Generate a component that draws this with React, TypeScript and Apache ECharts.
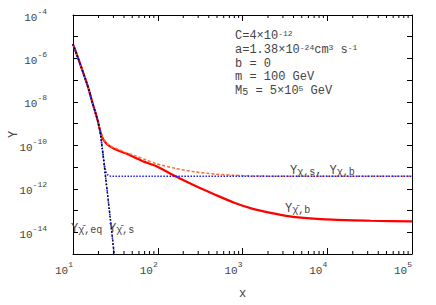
import React, { useEffect, useRef } from 'react';
import * as echarts from 'echarts';

// ---- data ----
// equilibrium curve  Y_{chi-bar,eq}  (also Y_{chi-bar,s})
const eqX = [10, 11, 12, 13, 15, 17, 18.41, 19.42, 20.48, 21.2, 22.17, 23.38, 25.32, 27.42, 30.25, 30.9];
const eqY = [4.57e-6, 1.66e-6, 6.37e-7, 2.61e-7, 5.06e-8, 8.85e-9, 3.17e-9, 1.55e-9, 6.14e-10, 3.0e-10, 7.1e-11, 1.18e-11, 7.8e-13, 4.9e-14, 1.5e-15, 6.6e-16];

// Y_{chi-bar,b}  (red solid)
const barBX = [10, 11, 12, 13, 15, 17, 18.41, 19.42, 19.95, 20.48, 21.2, 22.17, 23.38, 25.32, 28.9, 33.0, 43.1, 56.1, 73.2, 95.4, 162, 276, 469, 798, 1357, 2307, 3926, 11350, 32800, 100000];
const barBY = [4.57e-6, 1.66e-6, 6.37e-7, 2.61e-7, 5.06e-8, 8.85e-9, 3.17e-9, 1.55e-9, 1.02e-9, 6.4e-10, 3.9e-10, 2.3e-10, 1.62e-10, 1.13e-10, 7.9e-11, 6.1e-11, 4.1e-11, 2.57e-11, 1.62e-11, 1.12e-11, 3.8e-12, 1.38e-12, 5.5e-13, 2.29e-13, 1.17e-13, 7.4e-14, 5.1e-14, 3.8e-14, 3.4e-14, 3.16e-14];

// Y_{chi,b}  (orange dashed)
const chiBX = [10, 11, 12, 13, 15, 17, 18.41, 19.42, 19.95, 20.48, 21.2, 22.17, 23.38, 25.32, 28.9, 33.0, 43.1, 56.1, 73.2, 95.4, 162, 276, 469, 798, 1357, 3926, 100000];
const chiBY = [4.57e-6, 1.66e-6, 6.37e-7, 2.61e-7, 5.06e-8, 8.85e-9, 3.17e-9, 1.55e-9, 1.02e-9, 6.4e-10, 3.9e-10, 2.44e-10, 1.75e-10, 1.2e-10, 8.5e-11, 6.9e-11, 4.5e-11, 3.16e-11, 2.1e-11, 1.45e-11, 8.7e-12, 6.0e-12, 4.8e-12, 4.2e-12, 3.9e-12, 3.76e-12, 3.76e-12];

// Y_{chi,s}  (blue dotted, freezes out early)
const chiSX = [10, 11, 12, 13, 15, 17, 18.41, 19.42, 20.48, 21.2, 22.17, 22.76, 23.7, 24.6, 25.97, 28.1, 30.5, 100000];
const chiSY = [4.57e-6, 1.66e-6, 6.37e-7, 2.61e-7, 5.06e-8, 8.85e-9, 3.17e-9, 1.55e-9, 6.14e-10, 3.0e-10, 7.1e-11, 3.16e-11, 1.07e-11, 5.8e-12, 4.2e-12, 3.8e-12, 3.76e-12, 3.76e-12];

// axis tick helpers
const xMinorMantissas = [2, 3, 4, 5, 6, 7, 8, 9];
const xDecades = [10, 100, 1000, 10000];
const X_MIN = 10, X_MAX = 1e5, Y_MIN = 1e-15, Y_MAX = 1e-4;

const FONT = "'Liberation Mono', 'DejaVu Sans Mono', monospace";
const TXT = '#444';

const pair = (xs: number[], ys: number[]) => xs.map((x, i) => [x, ys[i]]);

const rich = {
  b: { fontSize: 12, fontFamily: FONT, color: TXT, fill: TXT, verticalAlign: 'middle', lineHeight: 13 },
  p: { fontSize: 8, fontFamily: FONT, color: TXT, fill: TXT, verticalAlign: 'top', lineHeight: 13 },
  s: { fontSize: 10, fontFamily: FONT, color: TXT, fill: TXT, verticalAlign: 'bottom', lineHeight: 13 },
};

const tickRich = {
  b: { fontSize: 11, fontFamily: FONT, color: TXT, verticalAlign: 'bottom', lineHeight: 16 },
  p: { fontSize: 8, fontFamily: FONT, color: TXT, verticalAlign: 'top', lineHeight: 16 },
};

export default function App() {
  const ref = useRef<HTMLDivElement>(null);
  useEffect(() => {
    document.body.style.margin = '0';
    const chart = echarts.init(ref.current!, null, { renderer: 'svg' });
    const minorX: number[][] = [];
    xDecades.forEach((d) => xMinorMantissas.forEach((m) => minorX.push([m * d, Y_MIN])));

    const textEl = (x: number, y: number, text: string) => ({
      type: 'text',
      x,
      y,
      z: 100,
      style: {
        text,
        rich,
        fill: TXT,
        font: `12px ${FONT}`,
        verticalAlign: 'middle',
        textVerticalAlign: 'middle',
        align: 'left',
        textAlign: 'left',
      },
    });

    const baseX = {
      type: 'log',
      logBase: 10,
      min: X_MIN,
      max: X_MAX,
      splitLine: { show: false },
      axisLine: { show: true, lineStyle: { color: '#000', width: 1 } },
      axisTick: { show: true, inside: true, length: 6, lineStyle: { color: '#000' } },
    };
    const baseY = {
      type: 'log',
      logBase: 10,
      min: Y_MIN,
      max: Y_MAX,
      interval: 1,
      splitNumber: 11,
      splitLine: { show: false },
      axisLine: { show: true, lineStyle: { color: '#000', width: 1 } },
      axisTick: { show: true, inside: true, length: 5, lineStyle: { color: '#000' } },
    };

    const option: any = {
      animation: false,
      grid: { left: 65, right: 24, top: 15, bottom: 43, containLabel: false },
      xAxis: [
        {
          ...baseX,
          position: 'bottom',
          name: 'x',
          nameLocation: 'middle',
          nameGap: 34,
          nameMoveOverlap: false,
          nameTextStyle: { fontFamily: FONT, fontSize: 12, color: TXT },
          axisLabel: {
            formatter: (v: number) => `{b|10}{p|${Math.round(Math.log10(v))}}`,
            rich: tickRich,
            align: 'right',
            margin: 6,
            showMinLabel: true,
            showMaxLabel: true,
          },
        },
        { ...baseX, position: 'top', axisLabel: { show: false } },
      ],
      yAxis: [
        {
          ...baseY,
          position: 'left',
          name: 'Y',
          nameLocation: 'middle',
          nameRotate: 90,
          nameGap: 53,
          nameMoveOverlap: false,
          nameTextStyle: { fontFamily: FONT, fontSize: 12, color: TXT },
          axisLabel: {
            formatter: (v: number) => {
              const e = Math.round(Math.log10(v));
              return e % 2 === 0 ? `{b|10}{p|${e}}` : '';
            },
            rich: tickRich,
            margin: 26,
            showMinLabel: true,
            showMaxLabel: true,
          },
        },
        { ...baseY, position: 'right', axisLabel: { show: false } },
      ],
      series: [
        {
          type: 'custom',
          silent: true,
          clip: false,
          xAxisIndex: 0,
          yAxisIndex: 0,
          data: minorX,
          renderItem: (_p: any, api: any) => {
            const x = api.value(0);
            const b = api.coord([x, Y_MIN]);
            const t = api.coord([x, Y_MAX]);
            return {
              type: 'group',
              children: [
                { type: 'line', shape: { x1: b[0], y1: b[1], x2: b[0], y2: b[1] - 3 }, style: { stroke: '#000', lineWidth: 1 } },
                { type: 'line', shape: { x1: t[0], y1: t[1], x2: t[0], y2: t[1] + 3 }, style: { stroke: '#000', lineWidth: 1 } },
              ],
            };
          },
        },
        {
          name: 'Ybar_b',
          type: 'line',
          data: pair(barBX, barBY),
          showSymbol: false,
          smooth: 0.25,
          lineStyle: { color: '#ff0000', width: 2.2 },
          z: 2,
        },
        {
          name: 'Y_b',
          type: 'line',
          data: pair(chiBX, chiBY),
          showSymbol: false,
          smooth: 0.25,
          lineStyle: { color: '#ff6a2a', width: 1.5, type: [3, 2] },
          z: 3,
        },
        {
          name: 'Y_s',
          type: 'line',
          data: pair(chiSX, chiSY),
          showSymbol: false,
          smooth: 0.25,
          lineStyle: { color: '#1a1aff', width: 1.5, type: [1.5, 1.5] },
          z: 4,
        },
        {
          name: 'Ybar_s',
          type: 'line',
          data: pair(eqX, eqY),
          showSymbol: false,
          smooth: 0.25,
          lineStyle: { color: '#1a1aff', width: 1.5, type: [1.5, 1.5] },
          z: 4,
        },
        {
          name: 'Ybar_eq',
          type: 'line',
          data: pair(eqX, eqY),
          showSymbol: false,
          smooth: 0.25,
          lineStyle: { color: '#000000', width: 1.5, type: [1.5, 2.5] },
          z: 5,
        },
      ],
      graphic: [
        textEl(235, 36, '{b|C=4×10}{p|-12}'),
        textEl(235, 50, '{b|a=1.38×10}{p|-24}{b|cm}{p|3}{b| s}{p|-1}'),
        textEl(235, 64, '{b|b = 0}'),
        textEl(235, 77, '{b|m = 100 GeV}'),
        textEl(235, 91, '{b|M}{s|5}{b| = 5×10}{p|5}{b| GeV}'),
        textEl(290, 171, '{b|Y}{s|χ,s}{b|, Y}{s|χ,b}'),
        textEl(285, 209, '{b|Y}{s|χ\u0304,b}'),
        textEl(71, 229, '{b|Y}{s|χ\u0304,eq}'),
        textEl(109, 229, '{b|Y}{s|χ\u0304,s}'),
      ],
    };
    chart.setOption(option);
    return () => chart.dispose();
  }, []);
  return <div ref={ref} style={{ width: 436, height: 305 }} />;
}
